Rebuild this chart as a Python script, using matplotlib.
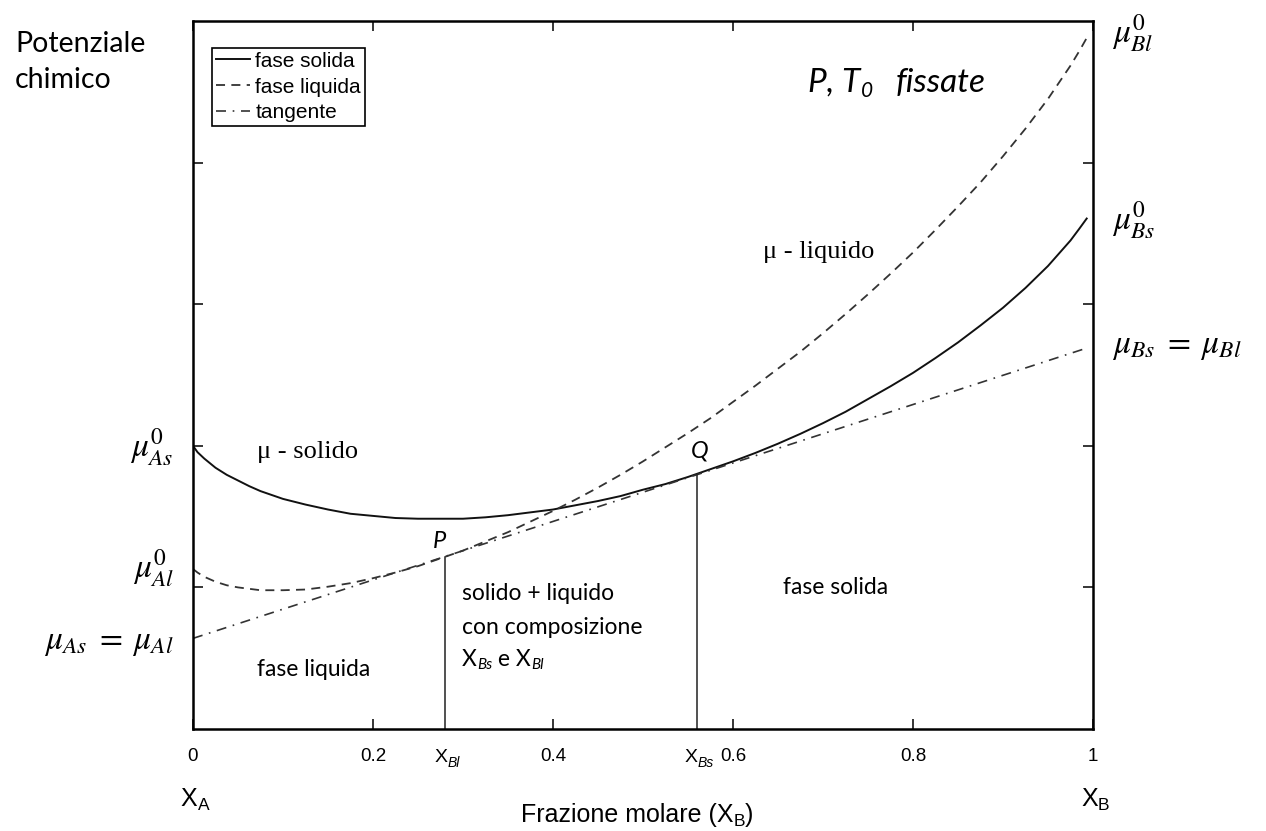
import matplotlib
matplotlib.use("Agg")
import matplotlib.pyplot as plt

plt.rcParams['mathtext.fontset'] = 'stix'

# ---------------- data ----------------
x_grid = [0.0, 0.005, 0.0125, 0.025, 0.0375, 0.05, 0.0625, 0.075, 0.1, 0.125, 0.15, 0.175,
          0.2, 0.225, 0.25, 0.275, 0.3, 0.325, 0.35, 0.375, 0.4, 0.425, 0.45, 0.475, 0.5,
          0.525, 0.55, 0.575, 0.6, 0.625, 0.65, 0.675, 0.7, 0.725, 0.75,
          0.775, 0.8, 0.825, 0.85, 0.875, 0.9, 0.925, 0.95, 0.975, 0.985, 0.993]
mu_solid = [0.400, 0.391, 0.382, 0.369, 0.359, 0.351, 0.343, 0.336, 0.325, 0.317, 0.310, 0.304,
            0.301, 0.298, 0.297, 0.297, 0.297, 0.299, 0.302, 0.306, 0.310, 0.316, 0.322, 0.329, 0.338,
            0.346, 0.356, 0.367, 0.378, 0.390, 0.403, 0.417, 0.432, 0.448, 0.466,
            0.484, 0.503, 0.524, 0.546, 0.570, 0.595, 0.623, 0.654, 0.690, 0.707, 0.721]
mu_liquid = [0.226, 0.221, 0.215, 0.208, 0.203, 0.200, 0.198, 0.196, 0.196, 0.197, 0.201, 0.206,
             0.213, 0.221, 0.230, 0.241, 0.252, 0.265, 0.278, 0.293, 0.308, 0.324, 0.341, 0.359, 0.378,
             0.398, 0.418, 0.439, 0.462, 0.485, 0.509, 0.533, 0.559, 0.586, 0.614,
             0.643, 0.673, 0.705, 0.738, 0.772, 0.809, 0.848, 0.890, 0.937, 0.958, 0.976]
tangent_x = [0.0, 0.993]
tangent_y = [0.128, 0.538]
x_Bl, mu_P = 0.28, 0.243
x_Bs, mu_Q = 0.56, 0.3595

xtick_pos = [0, 0.2, 0.4, 0.6, 0.8, 1]
xtick_lab = ['0', '0.2', '0.4', '0.6', '0.8', '1']
ytick_pos = [0.2, 0.4, 0.6, 0.8]

# ---------------- figure ----------------
W, H = 1266, 831
fig = plt.figure(figsize=(W / 100, H / 100), dpi=100)
ax = fig.add_axes([193 / W, 1 - 729 / H, 900 / W, 708 / H])
ax.set_xlim(0, 1)
ax.set_ylim(0, 1)

ax.plot(x_grid, mu_solid, color='#111111', lw=1.4, label='fase solida')
ax.plot(x_grid, mu_liquid, color='#333333', lw=1.3, dashes=(5, 3.5), label='fase liquida')
ax.plot(tangent_x, tangent_y, color='#333333', lw=1.2, dashes=(6, 4, 1, 4), label='tangente')
ax.plot([x_Bl, x_Bl], [0, mu_P], color='#222222', lw=1.1)
ax.plot([x_Bs, x_Bs], [0, mu_Q], color='#222222', lw=1.1)

for s in ax.spines.values():
    s.set_linewidth(1.8)
narrow = ['Liberation Sans Narrow', 'Liberation Sans']
ax.set_xticks(xtick_pos)
ax.set_xticklabels(xtick_lab, family=narrow)
ax.set_yticks(ytick_pos)
ax.set_yticklabels([])
ax.tick_params(direction='in', length=7, width=1.1, top=True, right=True,
               pad=14, labelsize=13.5)

leg = ax.legend(loc='upper left', bbox_to_anchor=(0.021, 0.962), frameon=True,
                fancybox=False, edgecolor='black', framealpha=1,
                prop={'family': 'Liberation Sans', 'size': 15},
                handlelength=1.65, handletextpad=0.25, labelspacing=0.33,
                borderpad=0.18, borderaxespad=0)
leg.get_frame().set_linewidth(1.2)

r = fig.canvas.get_renderer()


def place(xp, yp, s, **kw):
    """text at image pixel position (y measured from the top)"""
    return fig.text(xp / W, 1 - yp / H, s, **kw)


def compound(parts, xp, yp, ha='left'):
    """parts: (string, kwargs, dx_before, dy) placed one after the other"""
    items = []
    total = 0
    for s, kw, dx, dy in parts:
        t = fig.text(0, 0, s, va='center', ha='left', **kw)
        w = t.get_window_extent(r).width
        items.append((t, w, dx, dy))
        total += dx + w
    x0 = xp - (total / 2 if ha == 'center' else total if ha == 'right' else 0)
    for t, w, dx, dy in items:
        x0 += dx
        t.set_position((x0 / W, 1 - (yp + dy) / H))
        x0 += w
    return items


cal = 'Lato'
serif = 'Liberation Serif'

# y-axis caption
place(15, 52, 'Potenziale', family=cal, size=20.5, va='baseline', ha='left')
place(15, 88, 'chimico', family=cal, size=20.5, va='baseline', ha='left')

# chemical potential labels
msz = 24
place(1112, 33, r'$\mu^{0}_{Bl}$', size=msz, va='center', ha='left')
place(1112, 220, r'$\mu^{0}_{Bs}$', size=msz, va='center', ha='left')
place(1112, 345, r'$\mu_{Bs}\;=\;\mu_{Bl}$', size=msz, va='center', ha='left')
place(174, 447, r'$\mu^{0}_{As}$', size=msz, va='center', ha='right')
place(174, 568, r'$\mu^{0}_{Al}$', size=msz, va='center', ha='right')
place(174, 641, r'$\mu_{As}\;=\;\mu_{Al}$', size=msz, va='center', ha='right')

# P, T0 fissate
it = dict(family=cal, style='italic')
compound([('P, T', dict(size=24, **it), 0, 0),
          ('0', dict(size=15, **it), 1, 8),
          ('fissate', dict(size=24, **it), 22, 0)], 808, 83)

# curve names
place(257, 452, 'μ - solido', family=serif, size=19, va='center', ha='left')
place(763, 252, 'μ - liquido', family=serif, size=19, va='center', ha='left')

# P and Q points
ax.annotate('P', (x_Bl, mu_P), xytext=(-6, 15), textcoords='offset pixels',
            size=17, ha='center', va='center', **it)
ax.annotate('Q', (x_Bs, mu_Q), xytext=(3, 23), textcoords='offset pixels',
            size=17, ha='center', va='center', **it)

# region labels
tsz = 16.5
place(462, 593, 'solido + liquido', family=cal, size=tsz, va='center')
place(462, 627, 'con composizione', family=cal, size=tsz, va='center')
compound([('X', dict(family=cal, size=tsz), 0, 0),
          ('Bs', dict(family=cal, size=11, style='italic'), 0, 5),
          (' e X', dict(family=cal, size=tsz), 0, 0),
          ('Bl', dict(family=cal, size=11, style='italic'), 0, 5)], 462, 660)
place(783, 587, 'fase solida', family=cal, size=tsz, va='center')
place(257, 670, 'fase liquida', family=cal, size=tsz, va='center')

# X_Bl and X_Bs under the axis, positioned from the data values
for xv, sub in [(x_Bl, 'Bl'), (x_Bs, 'Bs')]:
    xp = ax.transData.transform((xv, 0))[0]
    compound([('X', dict(family=narrow, size=14), 0, 0),
              (sub, dict(family=narrow, size=10, style='italic'), 0, 6)],
             xp + 2, 757, ha='center')

# X_A, X_B and axis title
for xv, sub in [(0, 'A'), (1, 'B')]:
    xp = ax.transData.transform((xv, 0))[0]
    compound([('X', dict(family=narrow, size=18), 0, 0),
              (sub, dict(family=narrow, size=12.5), 0, 7)],
             xp + 2, 799, ha='center')
compound([('Frazione molare (X', dict(family=narrow, size=18), 0, 0),
          ('B', dict(family=narrow, size=12.5), 0, 6),
          (')', dict(family=narrow, size=18), 0, 0)], 637, 815, ha='center')

fig.savefig('out.png', dpi=100)
